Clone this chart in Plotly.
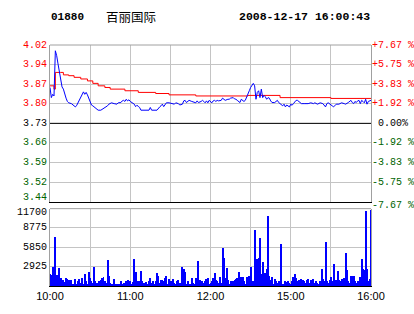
import plotly.graph_objects as go

# ---------------- data ----------------
code = "01880"
name = "百丽国际"
stamp = "2008-12-17 16:00:43"

prev_close = 3.73
pct_levels = [7.67, 5.75, 3.83, 1.92, 0.0, -1.92, -3.83, -5.75, -7.67]
price_labels = ["4.02", "3.94", "3.87", "3.80", "3.73", "3.66", "3.59", "3.52", "3.44"]
pct_labels = ["+7.67 %", "+5.75 %", "+3.83 %", "+1.92 %", "0.00%", "-1.92 %", "-3.83 %", "-5.75 %", "-7.67 %"]

vol_ticks = [2925, 5850, 8775, 11700]
vol_labels = ["2925", "5850", "8775", "11700"]

time_ticks = [0, 30, 60, 90, 120, 150, 180, 210, 240]
time_labels = ["10:00", "", "11:00", "", "12:00", "", "15:00", "", "16:00"]

price_min = [0, 1, 2, 3, 4, 5, 6, 7, 8, 9, 10, 11, 12, 13, 14, 16, 18, 19, 20, 21, 22, 23, 24, 25, 26, 27,
             28, 29, 30, 31, 32, 33, 34, 35, 36, 38, 39, 40, 42, 43, 44, 46, 48, 50, 51, 53, 54, 55, 56, 57,
             58, 59, 60, 61, 62, 63, 64, 65, 66, 67, 68, 74, 75, 76, 80, 81, 82, 83, 84, 85, 86, 87, 89, 91,
             93, 94, 96, 97, 99, 100, 101, 102, 104, 106, 108, 109, 110, 111, 113, 114, 115, 116, 117, 118,
             119, 120, 121, 122, 123, 124, 125, 126, 128, 129, 130, 131, 133, 134, 135, 137, 138, 139, 140,
             141, 142, 143, 144, 145, 146, 147, 148, 149, 150, 151, 152, 153, 154, 155, 156, 157, 158, 159,
             160, 161, 162, 163, 164, 165, 166, 168, 169, 170, 171, 172, 173, 174, 175, 176, 177, 178, 179,
             180, 181, 182, 183, 184, 185, 186, 187, 188, 190, 193, 195, 197, 198, 200, 202, 204, 206, 207,
             208, 209, 210, 211, 212, 213, 214, 216, 218, 220, 221, 223, 224, 225, 226, 227, 228, 229, 230,
             231, 232, 233, 234, 235, 236, 237, 238, 239, 240]
price_val = [3.861, 3.824, 3.836, 3.830, 3.995, 3.977, 3.947, 3.916, 3.885, 3.863, 3.855, 3.836, 3.822,
             3.810, 3.805, 3.802, 3.794, 3.790, 3.796, 3.806, 3.816, 3.827, 3.836, 3.845, 3.836, 3.843,
             3.834, 3.822, 3.806, 3.797, 3.794, 3.790, 3.788, 3.781, 3.778, 3.778, 3.781, 3.785, 3.788,
             3.794, 3.800, 3.805, 3.802, 3.800, 3.805, 3.806, 3.812, 3.814, 3.810, 3.818, 3.812, 3.816,
             3.810, 3.806, 3.802, 3.800, 3.791, 3.796, 3.792, 3.788, 3.778, 3.778, 3.788, 3.778, 3.778,
             3.785, 3.790, 3.794, 3.800, 3.791, 3.800, 3.805, 3.805, 3.802, 3.800, 3.805, 3.802, 3.797,
             3.800, 3.812, 3.814, 3.806, 3.814, 3.810, 3.805, 3.805, 3.812, 3.806, 3.810, 3.814, 3.810,
             3.805, 3.812, 3.805, 3.814, 3.810, 3.805, 3.812, 3.814, 3.810, 3.814, 3.812, 3.814, 3.822,
             3.817, 3.814, 3.818, 3.818, 3.822, 3.824, 3.819, 3.818, 3.814, 3.810, 3.806, 3.818, 3.814,
             3.810, 3.814, 3.824, 3.836, 3.849, 3.861, 3.871, 3.876, 3.867, 3.818, 3.843, 3.849, 3.824,
             3.855, 3.824, 3.832, 3.827, 3.818, 3.824, 3.822, 3.812, 3.806, 3.806, 3.810, 3.814, 3.806,
             3.802, 3.796, 3.794, 3.800, 3.790, 3.797, 3.794, 3.790, 3.800, 3.796, 3.802, 3.810, 3.814,
             3.814, 3.810, 3.806, 3.802, 3.802, 3.802, 3.805, 3.802, 3.805, 3.800, 3.805, 3.802, 3.790,
             3.802, 3.805, 3.802, 3.800, 3.794, 3.790, 3.796, 3.800, 3.800, 3.805, 3.802, 3.800, 3.806,
             3.812, 3.814, 3.806, 3.802, 3.810, 3.806, 3.812, 3.814, 3.802, 3.814, 3.810, 3.805, 3.818,
             3.800, 3.810, 3.812, 3.814]

avg_min = [0, 3, 4, 8, 10, 14, 18, 23, 28, 32, 36, 41, 45, 56, 66, 79, 89, 109, 148, 172, 210, 240]
avg_val = [3.867, 3.855, 3.916, 3.916, 3.907, 3.904, 3.898, 3.892, 3.885, 3.876, 3.867, 3.861, 3.855,
           3.849, 3.843, 3.839, 3.834, 3.830, 3.832, 3.824, 3.821, 3.821]

volume = [
    1850, 1650, 2900, 1750, 7400, 1750, 1500, 2750, 1250, 750,
    1000, 650, 1250, 1150, 1000, 500, 1000, 350, 250, 1100,
    350, 750, 1150, 450, 1250, 350, 1850, 750, 350, 2150,
    1250, 850, 500, 3000, 750, 500, 350, 750, 1000, 1250,
    1400, 750, 500, 3950, 1600, 500, 350, 0, 1100, 350,
    350, 350, 350, 750, 350, 500, 350, 800, 950, 350,
    800, 350, 650, 4100, 2200, 500, 750, 800, 2350, 750,
    500, 350, 650, 350, 750, 1250, 500, 750, 350, 750,
    2000, 1500, 500, 1000, 1000, 750, 1250, 1500, 350, 1100,
    750, 850, 1100, 500, 350, 750, 1000, 500, 500, 3000,
    2650, 2150, 350, 750, 350, 350, 1250, 500, 350, 1250,
    750, 3800, 1000, 350, 850, 500, 750, 1100, 1250, 350,
    500, 750, 1250, 2000, 1000, 750, 500, 1350, 500, 5750,
    4250, 1250, 2750, 1000, 350, 750, 350, 750, 1000, 1100,
    1250, 2150, 1000, 1450, 1400, 750, 350, 1350, 350, 1500,
    3000, 350, 750, 8600, 750, 4100, 4350, 7250, 1850, 3750,
    1500, 2000, 2650, 10650, 1500, 1000, 1350, 350, 1150, 850,
    500, 750, 350, 6350, 350, 350, 750, 600, 750, 500,
    350, 750, 1350, 1850, 1250, 750, 1000, 350, 1150, 1000,
    750, 500, 1000, 1100, 500, 1000, 750, 1100, 500, 750,
    500, 350, 750, 2600, 1100, 750, 6650, 850, 500, 1000,
    1350, 750, 3350, 500, 1000, 2250, 1000, 750, 1100, 1100,
    1250, 5000, 2500, 750, 500, 1500, 1500, 1500, 750, 500,
    750, 350, 1350, 4100, 2650, 2500, 11350, 2650, 750, 1100,
    11600,
]
vol_min = list(range(len(volume)))

# ---------------- figure ----------------
price_ticks = [prev_close * (1 + p / 100) for p in pct_levels]
RED = "#ff0000"
GREEN = "#006400"
BLUE = "#0000ff"
GRID = "#c4c4c4"
FRAME = "#a0a0a0"

def lvl_color(p):
    return RED if p > 0 else (GREEN if p < 0 else "#000000")

fig = go.Figure()
fig.add_trace(go.Bar(x=vol_min, y=volume, xaxis="x2", yaxis="y2", width=0.75,
                     marker=dict(color=BLUE, line=dict(width=0)), hoverinfo="skip"))
fig.add_trace(go.Scatter(x=avg_min, y=avg_val, mode="lines", line=dict(color=RED, width=1, shape="hv"),
                         hoverinfo="skip"))
fig.add_trace(go.Scatter(x=price_min, y=price_val, mode="lines", line=dict(color=BLUE, width=1),
                         hoverinfo="skip"))

ann = []
mono = "Liberation Mono, DejaVu Sans Mono, monospace"
n = len(price_ticks)
for i, (v, lab, p) in enumerate(zip(price_ticks, price_labels, pct_levels)):
    ya = "bottom" if i == n - 1 else "middle"
    ys = -3 if i == n - 1 else 0
    ann.append(dict(x=0, xref="paper", y=v, yref="y", text=lab, showarrow=False, xanchor="right",
                    yanchor=ya, yshift=ys, xshift=-1, font=dict(family=mono, size=10, color=lvl_color(p))))
for i, (v, lab, p) in enumerate(zip(price_ticks, pct_labels, pct_levels)):
    ys = -4 if i == n - 1 else 0
    ann.append(dict(x=1, xref="paper", y=v, yref="y", text=lab, showarrow=False, xanchor="left",
                    yanchor="middle", yshift=ys, xshift=(5 if p == 0 else -1),
                    font=dict(family=mono, size=10, color=lvl_color(p))))
for i, (v, lab) in enumerate(zip(vol_ticks, vol_labels)):
    ya = "top" if i == len(vol_ticks) - 1 else "middle"
    ys = 4 if i == len(vol_ticks) - 1 else 0
    ann.append(dict(x=0, xref="paper", y=v, yref="y2", text=lab, showarrow=False, xanchor="right",
                    yanchor=ya, yshift=ys, xshift=-1, font=dict(family=mono, size=10, color="#000000")))

# header
ann.append(dict(x=0, xref="paper", y=1.117, yref="paper", text="<b>" + code + "</b>", showarrow=False,
                xanchor="left", yanchor="middle", xshift=-1, font=dict(family=mono, size=11, color="#000")))
ann.append(dict(x=(105 - 50) / 321, xref="paper", y=1.117, yref="paper", text=name, showarrow=False,
                xanchor="left", yanchor="middle", xshift=-1,
                font=dict(family="Noto Sans CJK SC", size=12.5, color="#000")))
ann.append(dict(x=(238 - 50) / 321, xref="paper", y=1.117, yref="paper", text="<b>" + stamp + "</b>",
                showarrow=False, xanchor="left", yanchor="middle", xshift=-1,
                font=dict(family=mono, size=11.5, color="#000")))

shapes = [
    dict(type="line", xref="paper", x0=0, x1=1, yref="y domain", y0=1, y1=1, line=dict(color=FRAME, width=1)),
    dict(type="line", xref="paper", x0=0, x1=1, yref="y2 domain", y0=1, y1=1, line=dict(color=FRAME, width=1)),
    dict(type="line", xref="paper", x0=0, x1=1, yref="y", y0=prev_close, y1=prev_close,
         line=dict(color="#000000", width=1)),
]

xcommon = dict(range=[0, 240], tickmode="array", tickvals=time_ticks, showgrid=True, gridcolor=GRID,
               gridwidth=1, zeroline=False, showline=True, linecolor="#000000", linewidth=1, ticks="",
               fixedrange=True)

fig.update_layout(
    width=414, height=314,
    margin=dict(l=50, r=43, t=45, b=26, pad=0),
    paper_bgcolor="white", plot_bgcolor="white",
    showlegend=False, bargap=0,
    xaxis=dict(domain=[0, 1], anchor="y", showticklabels=False, **xcommon),
    xaxis2=dict(domain=[0, 1], anchor="y2", showticklabels=True, ticktext=time_labels,
                tickfont=dict(family="Liberation Sans, Arial, sans-serif", size=11, color="#000"),
                **xcommon),
    yaxis=dict(domain=[(288 - 203) / 243, 1], anchor="x",
               range=[prev_close * (1 - 0.0767), prev_close * (1 + 0.0767)],
               tickmode="array", tickvals=price_ticks, showticklabels=False, showgrid=True,
               gridcolor=GRID, zeroline=False, showline=True, mirror=True, linecolor=FRAME, ticks="",
               fixedrange=True),
    yaxis2=dict(domain=[0, (288 - 210) / 243], anchor="x2", range=[0, 11700],
                tickmode="array", tickvals=vol_ticks, showticklabels=False, showgrid=True,
                gridcolor=GRID, zeroline=False, showline=True, mirror=True, linecolor=FRAME, ticks="",
                fixedrange=True),
    annotations=ann,
    shapes=shapes,
)

fig.write_html("out.html", config={"displayModeBar": False})
